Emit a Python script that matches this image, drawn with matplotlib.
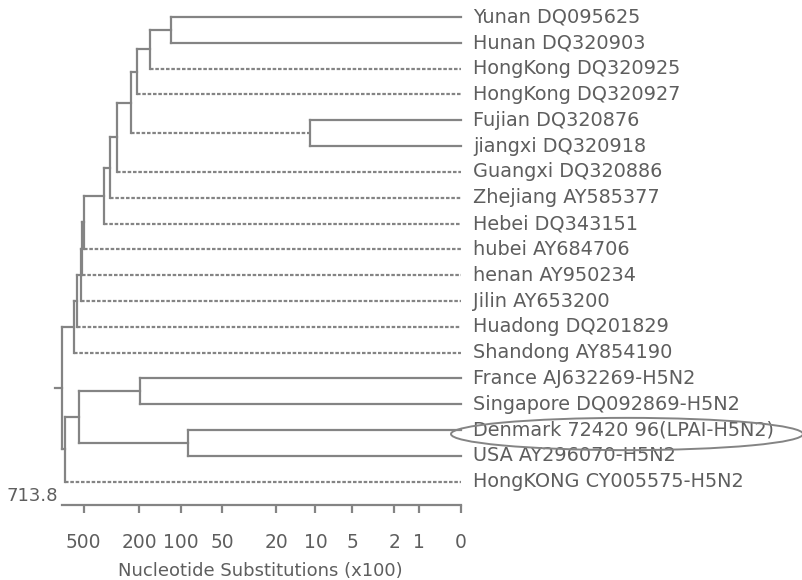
import numpy as np
import matplotlib
matplotlib.use("Agg")
import matplotlib.pyplot as plt
from matplotlib.patches import Ellipse
from matplotlib.transforms import blended_transform_factory

# ---------------- data ----------------
leaves = [
    "Yunan DQ095625",
    "Hunan DQ320903",
    "HongKong DQ320925",
    "HongKong DQ320927",
    "Fujian DQ320876",
    "jiangxi DQ320918",
    "Guangxi DQ320886",
    "Zhejiang AY585377",
    "Hebei DQ343151",
    "hubei AY684706",
    "henan AY950234",
    "Jilin AY653200",
    "Huadong DQ201829",
    "Shandong AY854190",
    "France AJ632269-H5N2",
    "Singapore DQ092869-H5N2",
    "Denmark 72420 96(LPAI-H5N2)",
    "USA AY296070-H5N2",
    "HongKONG CY005575-H5N2",
]

# internal nodes: name, child 1, child 2, height (nucleotide substitutions x100)
node_names = ["n1", "n2", "n3", "n4", "n5", "n6", "n7", "n8", "n9", "n10",
              "n11", "n12", "n13", "n14", "n15", "n16", "n17", "root"]
node_child1 = ["Yunan DQ095625", "n1", "n2", "Fujian DQ320876", "n3", "n5",
               "n6", "n7", "n8", "n9", "n10", "n11", "n12",
               "France AJ632269-H5N2", "Denmark 72420 96(LPAI-H5N2)",
               "n14", "n16", "n13"]
node_child2 = ["Hunan DQ320903", "HongKong DQ320925", "HongKong DQ320927",
               "jiangxi DQ320918", "n4", "Guangxi DQ320886",
               "Zhejiang AY585377", "Hebei DQ343151", "hubei AY684706",
               "henan AY950234", "Jilin AY653200", "Huadong DQ201829",
               "Shandong AY854190", "Singapore DQ092869-H5N2",
               "USA AY296070-H5N2", "n15", "HongKONG CY005575-H5N2", "n17"]
node_height = [118, 167, 207, 11, 228, 288, 323, 357, 496, 513,
               522, 557, 586, 197, 89, 539, 679, 713.8]

# branches drawn dashed in the original
dashed_branches = ["HongKong DQ320925", "HongKong DQ320927", "n4",
                   "Guangxi DQ320886", "Zhejiang AY585377", "Hebei DQ343151",
                   "hubei AY684706", "henan AY950234", "Jilin AY653200",
                   "Huadong DQ201829", "Shandong AY854190",
                   "HongKONG CY005575-H5N2"]

root_height = 713.8
tick_values = [500, 200, 100, 50, 20, 10, 5, 2, 1, 0]
tick_labels = ["500", "200", "100", "50", "20", "10", "5", "2", "1", "0"]
major_long_ticks = [100, 10, 1]
x_label = "Nucleotide Substitutions (x100)"
highlight_leaf = "Denmark 72420 96(LPAI-H5N2)"

# ---------------- layout ----------------
W, H = 803, 580
fig = plt.figure(figsize=(W / 100, H / 100), dpi=100)
fig.patch.set_facecolor("white")
plt.rcParams['font.family'] = ['DejaVu Sans']

line_col = "#848484"
text_col = "#5e5e5e"

ax = fig.add_axes([62 / W, 1 - 505 / H, (461 - 62) / W, 505 / H])
ax.set_xscale("function", functions=(lambda v: np.log10(1 + np.asarray(v)),
                                     lambda u: 10 ** np.asarray(u) - 1))
ax.set_xlim(root_height, 0)
ax.set_ylim(18.9, -0.66)

# positions
ypos = {name: i for i, name in enumerate(leaves)}
xpos = {name: 0.0 for name in leaves}
for nm, c1, c2, h in zip(node_names, node_child1, node_child2, node_height):
    ypos[nm] = (ypos[c1] + ypos[c2]) / 2
    xpos[nm] = h

lw = 1.6
dash = (0, (1.6, 0.8))
for nm, c1, c2, h in zip(node_names, node_child1, node_child2, node_height):
    # vertical
    ax.plot([h, h], [ypos[c1], ypos[c2]], color=line_col, lw=lw,
            solid_capstyle="projecting", clip_on=False)
    for c in (c1, c2):
        ls = dash if c in dashed_branches else "-"
        ax.plot([h, xpos[c]], [ypos[c], ypos[c]], color=line_col, lw=lw,
                linestyle=ls, clip_on=False)

# root stub
ax.plot([root_height * 1.13, root_height], [ypos["root"], ypos["root"]],
        color=line_col, lw=lw, clip_on=False)

# leaf labels
for name in leaves:
    ax.annotate(name, xy=(0, ypos[name]), xytext=(12, 0),
                textcoords="offset pixels", va="center", ha="left",
                fontsize=13.9, color=text_col, annotation_clip=False)

# highlight ellipse around Denmark label
tr = blended_transform_factory(fig.transFigure, ax.transData)
ell = Ellipse((627 / W, ypos[highlight_leaf] + 0.15), 352 / W, 1.25,
              transform=tr, fill=False, edgecolor=line_col, lw=1.4,
              clip_on=False)
fig.add_artist(ell)

# axis styling
for s in ("top", "right", "left"):
    ax.spines[s].set_visible(False)
ax.spines["bottom"].set_color(line_col)
ax.spines["bottom"].set_linewidth(1.6)
ax.set_yticks([])
ax.set_xticks(tick_values)
ax.set_xticklabels(tick_labels)
ax.set_xticks(major_long_ticks, minor=True)
ax.tick_params(axis="x", which="major", direction="out", length=6, width=1.6,
               color=line_col, labelcolor=text_col, labelsize=13.4, pad=14.5)
ax.tick_params(axis="x", which="minor", direction="out", length=13, width=1.6,
               color=line_col, labelbottom=False)
ax.set_xlabel(x_label, fontsize=13, color=text_col, labelpad=1)
ax.xaxis.set_label_coords((260 - 62) / (461 - 62), -57 / 505)
ax.patch.set_visible(False)

# root value label
ax.annotate(f"{root_height}", xy=(root_height, 18.9), xytext=(-4, 9),
            textcoords="offset pixels", ha="right", va="center",
            fontsize=13, color=text_col, annotation_clip=False)

fig.savefig("out.png", dpi=100, facecolor="white")
